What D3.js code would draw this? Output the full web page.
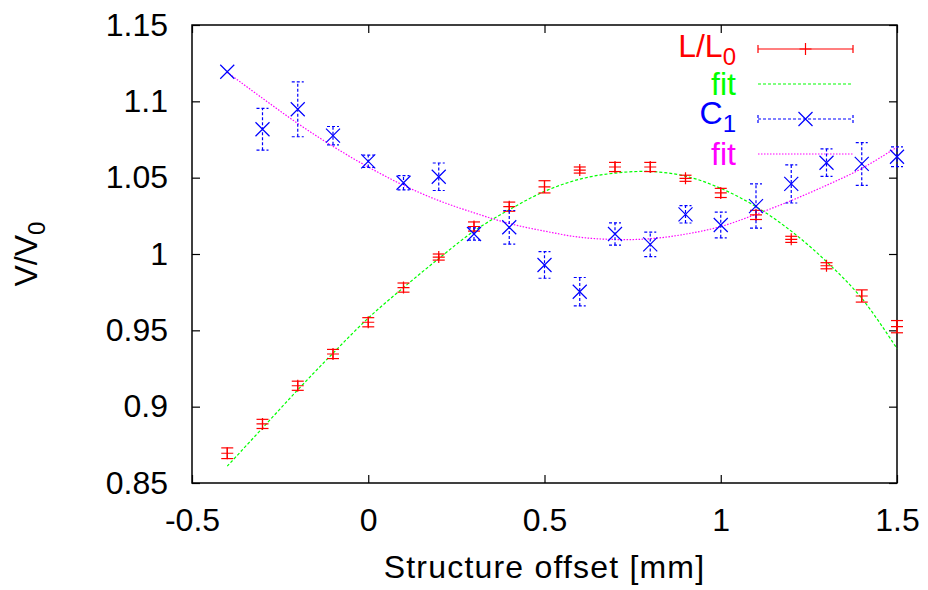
<!DOCTYPE html>
<html>
<head>
<meta charset="utf-8">
<script src="https://cdn.jsdelivr.net/npm/d3@7"></script>
<style>
  body { margin: 0; background: #fff; }
  svg text { font-family: "Liberation Sans", Arial, Helvetica, sans-serif; }
</style>
</head>
<body>
<div id="chart"></div>
<script>
// structure offset [mm]
const offsets = [-0.4, -0.3, -0.2, -0.1, 0.0, 0.1, 0.2, 0.3, 0.4, 0.5,
                 0.6, 0.7, 0.8, 0.9, 1.0, 1.1, 1.2, 1.3, 1.4, 1.5];

// L/L0 measurement and error
const ratioL = [0.8695, 0.8887, 0.9137, 0.9345, 0.9553, 0.978, 0.998, 1.018, 1.031, 1.044,
                1.055, 1.057, 1.057, 1.0496, 1.040, 1.0256, 1.0096, 0.9923, 0.9725, 0.9524];
const errL = [0.0035, 0.003, 0.003, 0.003, 0.003, 0.003, 0.002, 0.003, 0.003, 0.004,
              0.002, 0.003, 0.003, 0.002, 0.003, 0.003, 0.002, 0.002, 0.004, 0.004];

// C1 measurement and error
const ratioC = [1.1194, 1.0817, 1.0948, 1.0775, 1.0607, 1.0467, 1.0506, 1.0131, 1.0175, 0.9928,
                0.9753, 1.0131, 1.0063, 1.026, 1.019, 1.0314, 1.0459, 1.0598, 1.059, 1.0637];
const errC = [0, 0.0137, 0.018, 0.006, 0.004, 0.0047, 0.009, 0.004, 0.011, 0.0087,
              0.0093, 0.0073, 0.008, 0.0057, 0.0084, 0.0145, 0.0125, 0.009, 0.014, 0.0065];

// fit curves at each offset
const fitL = [0.861, 0.886, 0.911, 0.935, 0.958, 0.978, 0.997, 1.015, 1.029, 1.041,
              1.049, 1.053, 1.054, 1.051, 1.043, 1.031, 1.015, 0.995, 0.971, 0.938];
const fitC = [1.119, 1.102, 1.0855, 1.0705, 1.057, 1.045, 1.035, 1.027, 1.020, 1.015,
              1.011, 1.0095, 1.0100, 1.013, 1.018, 1.026, 1.035, 1.045, 1.056, 1.070];

const xTicks = [-0.5, 0, 0.5, 1, 1.5];
const yTicks = [0.85, 0.9, 0.95, 1, 1.05, 1.1, 1.15];

const W = 928, H = 590;
const margin = { left: 192, right: 31, top: 25, bottom: 107 };

const svg = d3.select('#chart').append('svg')
  .attr('width', W)
  .attr('height', H)
  .attr('viewBox', `0 0 ${W} ${H}`);

const x = d3.scaleLinear().domain([-0.5, 1.5]).range([margin.left, W - margin.right]);
const y = d3.scaleLinear().domain([0.85, 1.15]).range([H - margin.bottom, margin.top]);

const fmt = d => String(d);
const fontSize = 32;

// axes with inward ticks on all four sides
const axisStyle = g => {
  g.select('.domain').remove();
  g.selectAll('.tick line').attr('stroke', '#000').attr('stroke-width', 1.2);
  g.selectAll('.tick text')
    .attr('fill', '#000')
    .style('font-size', fontSize + 'px');
};

svg.append('g')
  .attr('transform', `translate(${margin.left},0)`)
  .call(d3.axisLeft(y).tickValues(yTicks).tickSize(-8).tickPadding(24).tickFormat(fmt))
  .call(axisStyle);

svg.append('g')
  .attr('transform', `translate(${W - margin.right},0)`)
  .call(d3.axisRight(y).tickValues(yTicks).tickSize(-8).tickFormat(''))
  .call(axisStyle);

svg.append('g')
  .attr('transform', `translate(0,${H - margin.bottom})`)
  .call(d3.axisBottom(x).tickValues(xTicks).tickSize(-8).tickPadding(25).tickFormat(fmt))
  .call(axisStyle);

svg.append('g')
  .attr('transform', `translate(0,${margin.top})`)
  .call(d3.axisTop(x).tickValues(xTicks).tickSize(-8).tickFormat(''))
  .call(axisStyle);

// frame
svg.append('rect')
  .attr('x', margin.left)
  .attr('y', margin.top)
  .attr('width', W - margin.left - margin.right)
  .attr('height', H - margin.top - margin.bottom)
  .attr('fill', 'none')
  .attr('stroke', '#000')
  .attr('stroke-width', 1.5);

// axis titles
svg.append('text')
  .attr('x', (margin.left + W - margin.right) / 2)
  .attr('y', 578)
  .attr('text-anchor', 'middle')
  .style('font-size', fontSize + 'px')
  .style('letter-spacing', '1.2px')
  .text('Structure offset [mm]');

const yLabel = svg.append('text')
  .attr('transform', `translate(37,${(margin.top + H - margin.bottom) / 2}) rotate(-90)`)
  .attr('text-anchor', 'middle')
  .style('font-size', fontSize + 'px');
yLabel.append('tspan').text('V/V');
yLabel.append('tspan').attr('dy', 8).style('font-size', '24px').text('0');

const plot = svg.append('g');

const colors = { L: '#ff0000', fitL: '#00ff00', C: '#0000ff', fitC: '#ff00ff' };

// fit lines
const fitLine = d3.line()
  .x(d => x(d[0]))
  .y(d => y(d[1]))
  .curve(d3.curveCatmullRom);

plot.append('path')
  .datum(d3.zip(offsets, fitL))
  .attr('d', fitLine)
  .attr('fill', 'none')
  .attr('stroke', colors.fitL)
  .attr('stroke-width', 1.2)
  .attr('stroke-dasharray', '3,2');

plot.append('path')
  .datum(d3.zip(offsets, fitC))
  .attr('d', fitLine)
  .attr('fill', 'none')
  .attr('stroke', colors.fitC)
  .attr('stroke-width', 1.2)
  .attr('stroke-dasharray', '1.5,1.5');

const cap = 6;

// error bar helper
function errorBars(g, vals, errs, color, dash) {
  const items = g.selectAll(null)
    .data(offsets.map((o, i) => ({ o, v: vals[i], e: errs[i] })).filter(d => d.e > 0))
    .join('g')
    .attr('stroke', color)
    .attr('stroke-width', 1.2)
    .attr('stroke-dasharray', dash);
  items.append('line')
    .attr('x1', d => x(d.o)).attr('x2', d => x(d.o))
    .attr('y1', d => y(d.v - d.e)).attr('y2', d => y(d.v + d.e));
  items.append('line')
    .attr('x1', d => x(d.o) - cap).attr('x2', d => x(d.o) + cap)
    .attr('y1', d => y(d.v - d.e)).attr('y2', d => y(d.v - d.e));
  items.append('line')
    .attr('x1', d => x(d.o) - cap).attr('x2', d => x(d.o) + cap)
    .attr('y1', d => y(d.v + d.e)).attr('y2', d => y(d.v + d.e));
  return items;
}

// marker shapes
function plusMarker(g, cx, cy, s, color) {
  g.append('path')
    .attr('d', `M${cx - s},${cy}H${cx + s}M${cx},${cy - s}V${cy + s}`)
    .attr('stroke', color).attr('stroke-width', 1.2).attr('fill', 'none');
}
function crossMarker(g, cx, cy, s, color) {
  g.append('path')
    .attr('d', `M${cx - s},${cy - s}L${cx + s},${cy + s}M${cx - s},${cy + s}L${cx + s},${cy - s}`)
    .attr('stroke', color).attr('stroke-width', 1.2).attr('fill', 'none');
}

const redG = plot.append('g');
errorBars(redG, ratioL, errL, colors.L, null);
offsets.forEach((o, i) => plusMarker(redG, x(o), y(ratioL[i]), 6, colors.L));

const blueG = plot.append('g');
errorBars(blueG, ratioC, errC, colors.C, '3,2');
const blueMarks = blueG.append('g');
offsets.forEach((o, i) => crossMarker(blueMarks, x(o), y(ratioC[i]), 7, colors.C));

// legend
const legendRows = [
  { main: 'L/L', sub: '0', color: colors.L, cy: 49, base: 57, kind: 'L' },
  { main: 'fit', sub: null, color: colors.fitL, cy: 84, base: 95, kind: 'fitL' },
  { main: 'C', sub: '1', color: colors.C, cy: 119, base: 124, kind: 'C' },
  { main: 'fit', sub: null, color: colors.fitC, cy: 154, base: 165, kind: 'fitC' }
];
const lx0 = 758, lx1 = 853, textRight = 736;

const legend = svg.append('g').attr('class', 'legend');
legendRows.forEach(r => {
  const t = legend.append('text')
    .attr('x', textRight)
    .attr('y', r.base)
    .attr('text-anchor', 'end')
    .attr('fill', r.color)
    .style('font-size', fontSize + 'px');
  t.append('tspan').text(r.main);
  if (r.sub) t.append('tspan').attr('dy', 8).style('font-size', '24px').text(r.sub);

  const k = legend.append('g').attr('stroke', r.color).attr('stroke-width', 1.2).attr('fill', 'none');
  const mid = (lx0 + lx1) / 2;
  if (r.kind === 'L' || r.kind === 'C') {
    const dash = r.kind === 'C' ? '3,2' : null;
    k.append('path')
      .attr('d', `M${lx0},${r.cy}H${lx1}M${lx0},${r.cy - 4}V${r.cy + 4}M${lx1},${r.cy - 4}V${r.cy + 4}`)
      .attr('stroke-dasharray', dash);
    if (r.kind === 'L') plusMarker(k, mid, r.cy, 6, r.color);
    else crossMarker(k, mid, r.cy, 7, r.color);
  } else {
    k.append('line')
      .attr('x1', lx0).attr('x2', lx1)
      .attr('y1', r.cy).attr('y2', r.cy)
      .attr('stroke-dasharray', r.kind === 'fitL' ? '3,2' : '1.5,1.5');
  }
});
</script>
</body>
</html>
